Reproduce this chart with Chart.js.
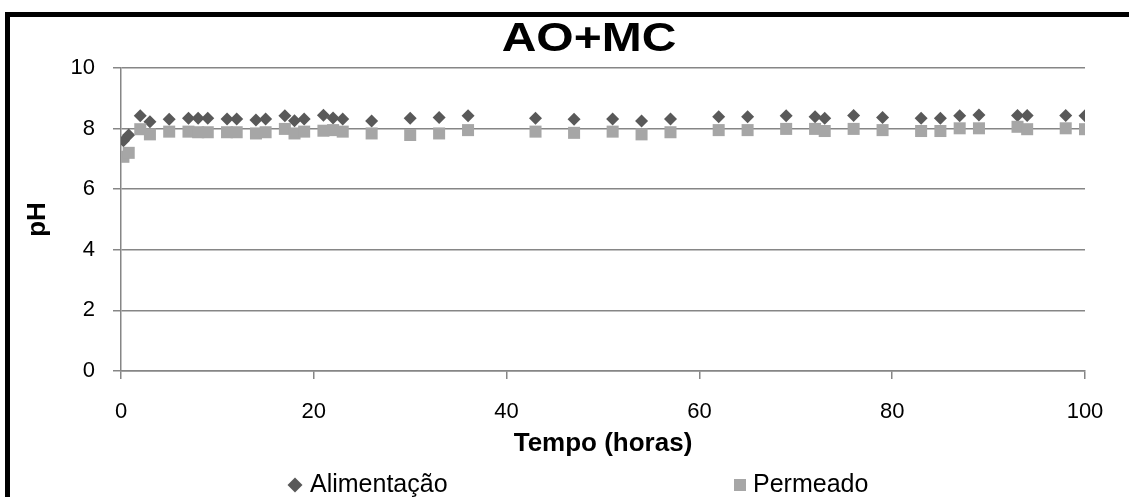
<!DOCTYPE html>
<html>
<head>
<meta charset="utf-8">
<script src="https://cdn.jsdelivr.net/npm/chart.js@4.4.1/dist/chart.umd.min.js"></script>
<style>
  body { margin: 0; background: #fff; width: 1129px; height: 497px; overflow: hidden; position: relative; }
  #frame { position: absolute; left: 5px; top: 12px; width: 1200px; height: 600px; border: 5px solid #000; }
  #chart { position: absolute; left: 0; top: 0; }
</style>
</head>
<body>
<div id="frame"></div>
<canvas id="chart" width="1129" height="497"></canvas>
<script>
const tempo = [0.25, 0.8, 2, 3, 5, 7, 8, 9, 11, 12, 14, 15, 17, 18, 19, 21, 22, 23, 26, 30, 33, 36, 43, 47, 51, 54, 57, 62, 65, 69, 72, 73, 76, 79, 83, 85, 87, 89, 93, 94, 98, 100];
const alimentacao = [7.60, 7.79, 8.42, 8.23, 8.31, 8.34, 8.34, 8.34, 8.32, 8.32, 8.28, 8.32, 8.42, 8.26, 8.32, 8.44, 8.35, 8.32, 8.25, 8.34, 8.37, 8.42, 8.34, 8.31, 8.32, 8.25, 8.32, 8.39, 8.39, 8.42, 8.39, 8.34, 8.43, 8.37, 8.34, 8.34, 8.42, 8.45, 8.43, 8.43, 8.43, 8.42];
const permeado = [7.07, 7.20, 7.98, 7.81, 7.90, 7.90, 7.88, 7.88, 7.88, 7.88, 7.84, 7.88, 7.99, 7.84, 7.90, 7.93, 7.95, 7.90, 7.84, 7.79, 7.84, 7.95, 7.90, 7.86, 7.90, 7.81, 7.88, 7.95, 7.95, 7.99, 7.99, 7.92, 7.99, 7.95, 7.92, 7.92, 8.01, 8.01, 8.06, 7.98, 8.01, 7.98];
const seriesNames = ['Alimentação', 'Permeado'];
const chartTitle = 'AO+MC';

const darkGray = '#595959';
const lightGray = '#a6a6a6';
const axisGray = '#868686';
const fontFamily = '"Liberation Sans", Arial, sans-serif';

function points(ys) {
  return tempo.map((t, i) => ({ x: t, y: ys[i] }));
}

// title and legend drawn at fixed spots, like the Excel layout
const decor = {
  id: 'decor',
  afterDraw(chart) {
    const ctx = chart.ctx;
    ctx.save();
    ctx.fillStyle = '#000';
    ctx.textBaseline = 'middle';
    ctx.textAlign = 'center';
    ctx.font = 'bold 40px ' + fontFamily;
    ctx.translate(589, 40);
    ctx.scale(1.2, 1);
    ctx.fillText(chartTitle, 0, 0);
    ctx.restore();

    ctx.save();
    ctx.font = '25px ' + fontFamily;
    ctx.textBaseline = 'middle';
    ctx.textAlign = 'left';
    ctx.fillStyle = darkGray;
    ctx.beginPath();
    ctx.moveTo(295, 477.5);
    ctx.lineTo(302.5, 485);
    ctx.lineTo(295, 492.5);
    ctx.lineTo(287.5, 485);
    ctx.closePath();
    ctx.fill();
    ctx.fillStyle = '#000';
    ctx.fillText(seriesNames[0], 310, 485);

    ctx.fillStyle = lightGray;
    ctx.fillRect(734, 479, 12, 12);
    ctx.fillStyle = '#000';
    ctx.fillText(seriesNames[1], 753, 485);
    ctx.restore();
  }
};

new Chart(document.getElementById('chart'), {
  type: 'scatter',
  data: {
    datasets: [{
      label: seriesNames[0],
      data: points(alimentacao),
      pointStyle: 'rectRot',
      pointRadius: 6.5,
      pointHoverRadius: 6.5,
      backgroundColor: darkGray,
      borderColor: darkGray,
      borderWidth: 0,
      order: 1
    }, {
      label: seriesNames[1],
      data: points(permeado),
      pointStyle: 'rect',
      pointRadius: 8.5,
      pointHoverRadius: 8.5,
      backgroundColor: lightGray,
      borderColor: lightGray,
      borderWidth: 0,
      order: 0
    }]
  },
  options: {
    responsive: false,
    animation: false,
    devicePixelRatio: 1,
    layout: { padding: { left: 10, right: 44, top: 68, bottom: 36 } },
    plugins: {
      legend: { display: false },
      title: { display: false },
      tooltip: { enabled: false }
    },
    scales: {
      x: {
        type: 'linear',
        min: 0,
        max: 100,
        ticks: { stepSize: 20, color: '#000', padding: 20, font: { family: fontFamily, size: 22 } },
        grid: { drawOnChartArea: false, drawTicks: true, tickLength: 8, color: axisGray, lineWidth: 1.5 },
        border: { color: axisGray, width: 1.5 },
        title: { display: true, text: 'Tempo (horas)', color: '#000', padding: { top: 0, bottom: 2 }, font: { family: fontFamily, size: 26, weight: 'bold' } },
        afterFit(scale) { scale.height = 90; }
      },
      y: {
        min: 0,
        max: 10,
        ticks: { stepSize: 2, color: '#000', padding: 18, font: { family: fontFamily, size: 22 } },
        grid: { color: axisGray, lineWidth: 1.5, tickLength: 8 },
        border: { color: axisGray, width: 1.5 },
        title: { display: true, text: 'pH', color: '#000', padding: { top: 12, bottom: 0 }, font: { family: fontFamily, size: 26, weight: 'bold' } },
        afterFit(scale) { scale.width = 111; }
      }
    }
  },
  plugins: [decor]
});
</script>
</body>
</html>
